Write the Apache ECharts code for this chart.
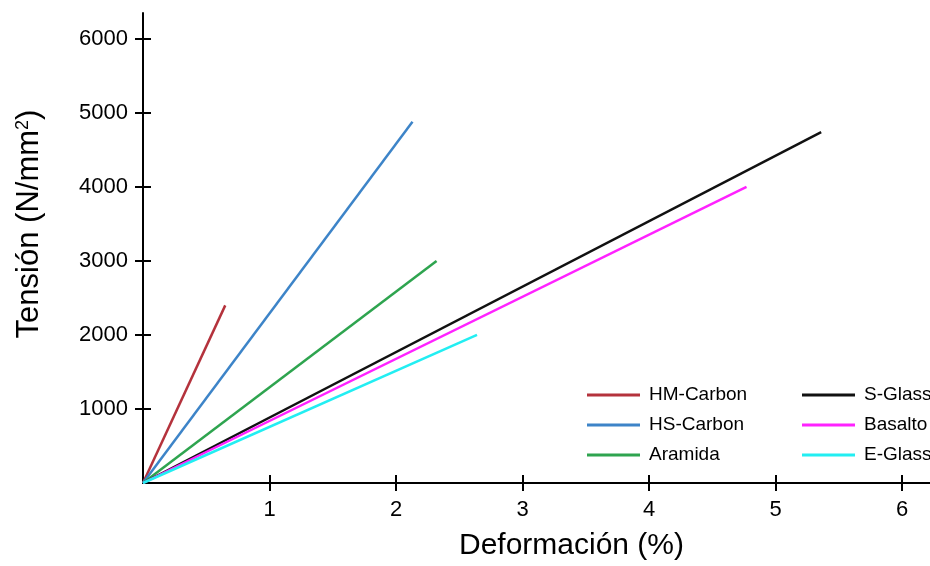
<!DOCTYPE html>
<html>
<head>
<meta charset="utf-8">
<script src="https://cdn.jsdelivr.net/npm/echarts@6/dist/echarts.min.js"></script>
<style>
  html, body { margin: 0; padding: 0; background: #fff; }
  #main { width: 930px; height: 566px; }
</style>
</head>
<body>
<div id="main"></div>
<script>
// each fibre is a straight line from the origin to its failure point
const seriesNames = ['HM-Carbon', 'HS-Carbon', 'Aramida', 'S-Glass', 'Basalto', 'E-Glass'];
const strainEnd = [0.65, 2.13, 2.32, 5.36, 4.77, 2.64];   // Deformación (%)
const stressEnd = [2400, 4880, 3000, 4740, 4000, 2000];   // Tensión (N/mm2)
const colors = ['#b4323c', '#3d84c8', '#2ea44f', '#111111', '#ff22ff', '#22eef2'];
const xTicks = [1, 2, 3, 4, 5, 6];
const yTicks = [1000, 2000, 3000, 4000, 5000, 6000];

const chart = echarts.init(document.getElementById('main'), null, { renderer: 'canvas' });

const font = 'Liberation Sans, Arial, sans-serif';

function baseAxis(min, max, ticks) {
  return {
    type: 'value',
    min: min,
    max: max,
    splitLine: { show: false },
    axisLine: { show: true, onZero: false, lineStyle: { color: '#000', width: 2 } },
    axisTick: { show: false },
    axisLabel: {
      show: true, customValues: ticks, color: '#000', fontFamily: font, fontSize: 22,
      formatter: function (v) { return String(v); }
    }
  };
}

const xMain = Object.assign(baseAxis(0, 6.22, xTicks), {
  name: 'Deformación (%)',
  nameLocation: 'middle',
  nameGap: 48,
  nameTextStyle: { color: '#000', fontFamily: font, fontSize: 30, padding: [0, 0, 0, 70] }
});
xMain.axisLabel.margin = 16;

const yMain = Object.assign(baseAxis(0, 6350, yTicks), {
  name: 'Tensión (N/mm{sup|2})',
  nameLocation: 'middle',
  nameGap: 98,
  nameTextStyle: {
    color: '#000', fontFamily: font, fontSize: 31, padding: [0, 0, 0, 48],
    rich: { sup: { fontFamily: font, fontSize: 18, color: '#000', verticalAlign: 'top', padding: [0, 0, 13, 0] } }
  }
});
yMain.axisLabel.margin = 15;

// tick-only axis pulled 8px into the plot so its 16px ticks cross the axis line
function crossTicks(min, max, ticks, position) {
  return {
    type: 'value',
    min: min,
    max: max,
    position: position,
    offset: -8,
    splitLine: { show: false },
    axisLine: { show: false },
    axisLabel: { show: false },
    axisTick: { show: true, length: 16, customValues: ticks, lineStyle: { color: '#000', width: 2 } }
  };
}
xMain.position = 'bottom';
yMain.position = 'left';

const legendText = { color: '#000', fontFamily: font, fontSize: 19, lineHeight: 20, padding: [0, 0, 0, 4] };

chart.setOption({
  backgroundColor: '#fff',
  animation: false,
  grid: { left: 143, top: 13, right: 0, bottom: 81 },
  xAxis: [xMain, crossTicks(0, 6.22, xTicks, 'bottom')],
  yAxis: [yMain, crossTicks(0, 6350, yTicks, 'left')],
  legend: [
    {
      data: seriesNames.slice(0, 3),
      orient: 'vertical', left: 587, top: 385, padding: 0,
      icon: 'rect', itemWidth: 53, itemHeight: 3, itemGap: 10,
      textStyle: legendText
    },
    {
      data: seriesNames.slice(3),
      orient: 'vertical', left: 802, top: 385, padding: 0,
      icon: 'rect', itemWidth: 53, itemHeight: 3, itemGap: 10,
      textStyle: legendText
    }
  ],
  series: seriesNames.map(function (name, i) {
    return {
      name: name,
      type: 'line',
      xAxisIndex: 0,
      yAxisIndex: 0,
      data: [[0, 0], [strainEnd[i], stressEnd[i]]],
      symbol: 'none',
      color: colors[i],
      lineStyle: { color: colors[i], width: 2.5 }
    };
  })
});
</script>
</body>
</html>
